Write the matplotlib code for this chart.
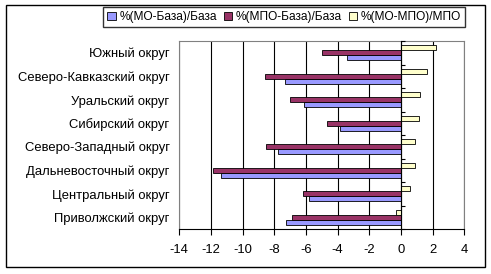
import numpy as np
import matplotlib
matplotlib.use('Agg')
import matplotlib.pyplot as plt
from matplotlib.patches import Rectangle

plt.rcParams['font.family'] = ['Liberation Sans', 'DejaVu Sans']

# data, categories listed bottom to top as in the chart
districts = ['Приволжский округ', 'Центральный округ', 'Дальневосточный округ',
             'Северо-Западный округ', 'Сибирский округ', 'Уральский округ',
             'Северо-Кавказский округ', 'Южный округ']
mo_base = [-7.25, -5.8, -11.36, -7.78, -3.83, -6.13, -7.34, -3.38]
mpo_base = [-6.9, -6.2, -11.88, -8.52, -4.65, -7.0, -8.61, -5.0]
mo_mpo = [-0.3, 0.59, 0.91, 0.91, 1.16, 1.23, 1.67, 2.24]
series_names = ['%(МО-База)/База', '%(МПО-База)/База', '%(МО-МПО)/МПО']
x_ticks = [-14, -12, -10, -8, -6, -4, -2, 0, 2, 4]

colors = ['#9999FF', '#993366', '#FFFFCC']

fig = plt.figure(figsize=(4.91, 2.74), dpi=100)
fig.patches.append(Rectangle((6 / 491, 1 - 267 / 274), 479 / 491, 262 / 274,
                             transform=fig.transFigure, fill=False,
                             edgecolor='black', linewidth=1.0))

ax = fig.add_axes([179.3 / 491, 1 - 229 / 274, (464.3 - 179.3) / 491, (229 - 41) / 274])

y = np.arange(len(districts))
h = 0.215
for i, vals in enumerate([mo_base, mpo_base, mo_mpo]):
    ax.barh(y + (i - 1) * h, vals, height=h, color=colors[i], edgecolor='black',
            linewidth=0.6, label=series_names[i], zorder=3)

ax.set_xlim(-14, 4)
ax.set_ylim(-0.5, len(districts) - 0.5)
ax.set_xticks(x_ticks)
ax.set_xticklabels([str(t) for t in x_ticks])
ax.xaxis.grid(True, color='black', linewidth=0.8, zorder=1)
ax.set_yticks(y)
ax.set_yticklabels(districts)
ax.tick_params(axis='y', length=0, pad=7, labelsize=9.4)
ax.tick_params(axis='x', direction='out', length=4, width=0.8, labelsize=9.4, pad=7)
for s in ['left', 'right', 'top']:
    ax.spines[s].set_color('#808080')
ax.spines['bottom'].set_color('black')

# category axis line at zero with boundary ticks
ax2 = ax.twinx()
ax2.set_ylim(ax.get_ylim())
ax2.spines['right'].set_position(('data', 0))
ax2.spines['right'].set_color('black')
for s in ['left', 'top', 'bottom']:
    ax2.spines[s].set_visible(False)
ax2.set_yticks(np.arange(len(districts) + 1) - 0.5)
ax2.tick_params(axis='y', direction='out', length=3, width=0.8, labelright=False)

leg = ax.legend(loc='upper left', bbox_to_anchor=(103 / 491, 1 - 7 / 274),
                bbox_transform=fig.transFigure, ncol=3, fontsize=8.6,
                frameon=True, fancybox=False, edgecolor='black',
                handlelength=0.7, handleheight=0.7, handletextpad=0.3,
                columnspacing=0.6, borderpad=0.35, borderaxespad=0)
leg.get_frame().set_linewidth(1.0)

fig.savefig('out.png', dpi=100)
